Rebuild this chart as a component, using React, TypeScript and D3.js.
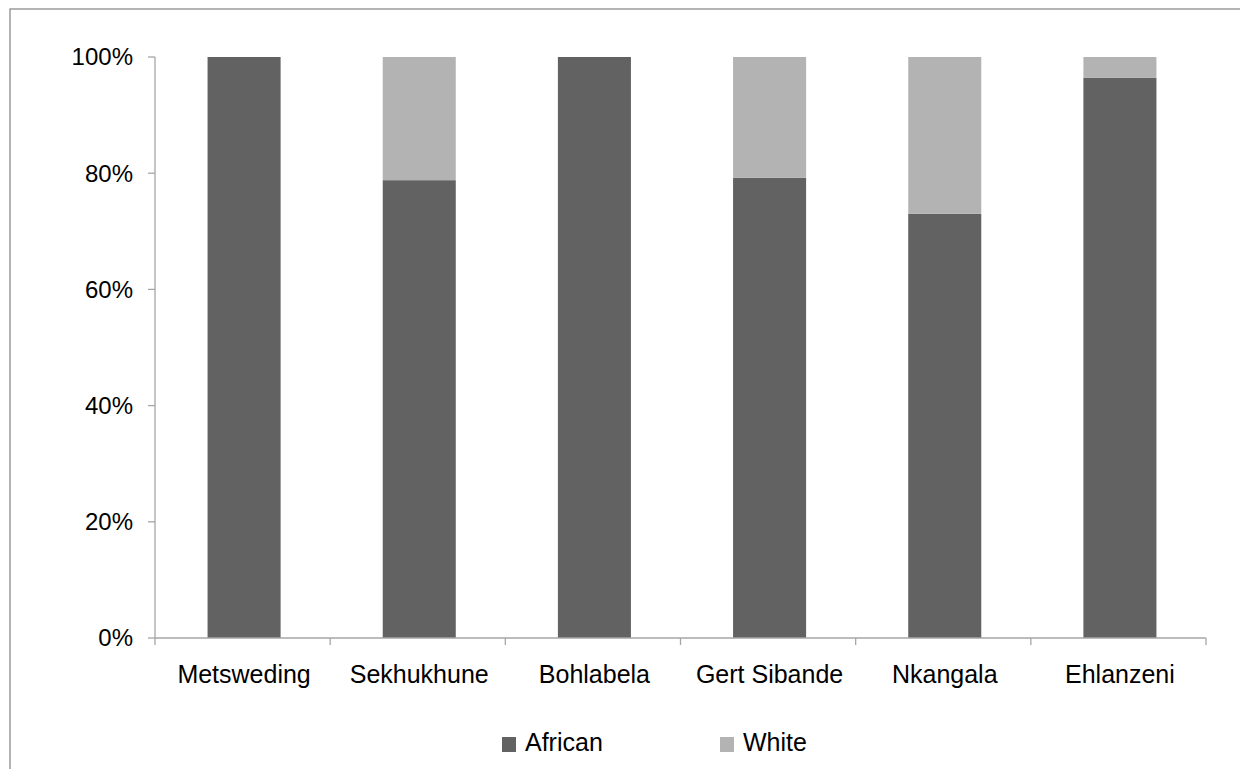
import React from "react";
import * as d3 from "d3";

const categories = ["Metsweding", "Sekhukhune", "Bohlabela", "Gert Sibande", "Nkangala", "Ehlanzeni"];
const african = [100, 78.8, 100, 79.2, 73.0, 96.4];
const white = [0, 21.2, 0, 20.8, 27.0, 3.6];
const yTicks = [0, 20, 40, 60, 80, 100];
const seriesNames = ["African", "White"];
const seriesColors = ["#626262", "#b3b3b3"];

export default function App() {
  const W = 1240, H = 769;
  const left = 155, right = 1206, top = 57, bottom = 638;
  const x = d3.scaleBand<string>().domain(categories).range([left, right]).paddingInner(0.583).paddingOuter(0.2915);
  const y = d3.scaleLinear().domain([0, 100]).range([bottom, top]);
  const band = (right - left) / categories.length;
  const font = "Liberation Sans, Arial, sans-serif";
  const axisColor = "#a6a6a6";
  const stack = d3.stack<number>().keys(["0", "1"]).value((i, k) => (k === "0" ? african[i] : white[i]));
  const stacked = stack(categories.map((_, i) => i));

  return (
    <svg width={W} height={H} style={{ position: "absolute", left: 0, top: 0, background: "#fff" }}>
      <rect x={10} y={9} width={W} height={H} fill="none" stroke="#8c8c8c" strokeWidth={1.3} />
      {stacked.map((s, si) => (
        <g key={si} fill={seriesColors[si]}>
          {s.map((d, i) => {
            const h = y(d[0]) - y(d[1]);
            if (h <= 0) return null;
            return <rect key={i} x={(x(categories[i]) as number) + 1.5} y={y(d[1])} width={x.bandwidth()} height={h} />;
          })}
        </g>
      ))}
      {/* y axis */}
      <line x1={left} x2={left} y1={top} y2={bottom} stroke={axisColor} strokeWidth={1.3} />
      {yTicks.map((t) => (
        <g key={t}>
          <line x1={left - 7} x2={left} y1={y(t)} y2={y(t)} stroke={axisColor} strokeWidth={1.3} />
          <text x={133} y={y(t)} dy="0.35em" textAnchor="end" fontFamily={font} fontSize={24} fill="#000">
            {t}%
          </text>
        </g>
      ))}
      {/* x axis */}
      <line x1={left} x2={right} y1={bottom} y2={bottom} stroke={axisColor} strokeWidth={1.3} />
      {d3.range(categories.length + 1).map((i) => (
        <line key={i} x1={left + i * band} x2={left + i * band} y1={bottom} y2={bottom + 7} stroke={axisColor} strokeWidth={1.3} />
      ))}
      {categories.map((c) => (
        <text key={c} x={(x(c) as number) + x.bandwidth() / 2 + 1.5} y={683} textAnchor="middle" fontFamily={font} fontSize={25} fill="#000">
          {c}
        </text>
      ))}
      {/* legend */}
      {seriesNames.map((n, i) => {
        const lx = 502 + i * 218;
        return (
          <g key={n}>
            <rect x={lx} y={737} width={14} height={15} fill={seriesColors[i]} />
            <text x={lx + 23} y={751} fontFamily={font} fontSize={25} fill="#000">
              {n}
            </text>
          </g>
        );
      })}
    </svg>
  );
}
